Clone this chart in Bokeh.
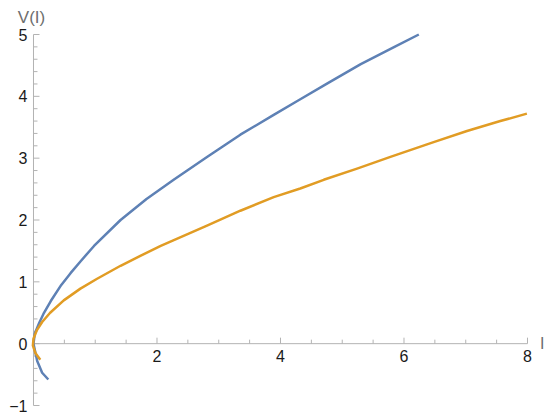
import math
from bokeh.plotting import figure
from bokeh.models import Range1d
from bokeh.core.properties import value
from bokeh.embed import file_html
from bokeh.resources import INLINE

# Blue curve (I, V)
blue_I = [0.24, 0.14, 0.06, 0.00, 0.02, 0.09, 0.17, 0.28, 0.45, 0.60, 0.76, 0.98, 1.41, 1.83,
          2.27, 2.81, 3.35, 3.89, 4.30, 4.76, 5.30, 5.83, 6.24]
blue_V = [-0.58, -0.47, -0.28, 0.00, 0.16, 0.33, 0.50, 0.69, 0.95, 1.14, 1.33, 1.58, 2.00, 2.34,
          2.65, 3.02, 3.38, 3.70, 3.94, 4.21, 4.52, 4.79, 5.00]

# Orange curve (I, V)
orange_I = [0.11, 0.03, -0.01, 0.00, 0.05, 0.14, 0.27, 0.49, 0.76, 1.03, 1.41, 1.73, 2.06, 2.81,
            3.35, 3.89, 4.32, 4.70, 5.24, 5.78, 6.48, 7.02, 7.56, 7.99]
orange_V = [-0.26, -0.15, -0.03, 0.08, 0.21, 0.35, 0.50, 0.70, 0.89, 1.05, 1.26, 1.42, 1.58, 1.91,
            2.15, 2.37, 2.51, 2.65, 2.83, 3.02, 3.26, 3.44, 3.60, 3.72]

x_major = [2, 4, 6, 8]
x_minor = [0.5, 1, 1.5, 2.5, 3, 3.5, 4.5, 5, 5.5, 6.5, 7, 7.5]
y_major = [-1, 0, 1, 2, 3, 4, 5]
y_minor = [round(-1 + 0.2 * i, 1) for i in range(31) if (i % 5) != 0]

x_labels = [str(v) for v in x_major]
y_labels = [("\u2212" + str(-v)) if v < 0 else str(v) for v in y_major]

FONT = value("Liberation Sans")
AXIS_COLOR = "#b3b3b3"
LABEL_COLOR = "#1a1a1a"

p = figure(width=550, height=419, output_backend="svg", toolbar_location=None,
           x_range=Range1d(-0.5344, 8.3725), y_range=Range1d(-1.2264, 5.5499),
           x_axis_location=None, y_axis_location=None,
           min_border_left=0, min_border_right=0, min_border_top=0, min_border_bottom=0)
p.grid.visible = False
p.outline_line_color = None
p.background_fill_color = "white"
p.border_fill_color = "white"

# axes lines (Mathematica-style, crossing at origin)
p.segment(x0=[0], y0=[0], x1=[x_major[-1]], y1=[0], line_color=AXIS_COLOR, line_width=1)
p.segment(x0=[0], y0=[y_major[0]], x1=[0], y1=[y_major[-1]], line_color=AXIS_COLOR, line_width=1)

# ticks (pointing inward)
p.ray(x=x_major, y=[0] * len(x_major), length=6, angle=math.pi / 2, length_units="screen",
      line_color=AXIS_COLOR, line_width=1)
p.ray(x=x_minor, y=[0] * len(x_minor), length=4, angle=math.pi / 2, length_units="screen",
      line_color=AXIS_COLOR, line_width=1)
p.ray(x=[0] * len(y_major), y=y_major, length=6, angle=0, length_units="screen",
      line_color=AXIS_COLOR, line_width=1)
p.ray(x=[0] * len(y_minor), y=y_minor, length=4, angle=0, length_units="screen",
      line_color=AXIS_COLOR, line_width=1)

# tick labels
p.text(x=x_major, y=[0] * len(x_major), text=x_labels, text_align="center", text_baseline="top",
       y_offset=6, text_font=FONT, text_font_size=value("16px"), text_color=LABEL_COLOR)
p.text(x=[0] * len(y_major), y=y_major, text=y_labels, text_align="right", text_baseline="middle",
       x_offset=-6, text_font=FONT, text_font_size=value("16px"), text_color=LABEL_COLOR)

# curves
p.line(blue_I, blue_V, line_color="#5E81B5", line_width=2.5, line_join="round")
p.line(orange_I, orange_V, line_color="#E19C24", line_width=2.5, line_join="round")

# axis labels
p.text(x=[0], y=[5.28], text=["V(I)"], text_align="center", text_baseline="middle", x_offset=-2,
       text_font=FONT, text_font_size=value("17px"), text_color="#6e6e6e")
p.text(x=[8.24], y=[0], text=["I"], text_align="center", text_baseline="middle",
       text_font=FONT, text_font_size=value("16px"), text_color="#6e6e6e")

open("out.html", "w").write(file_html(p, INLINE))
